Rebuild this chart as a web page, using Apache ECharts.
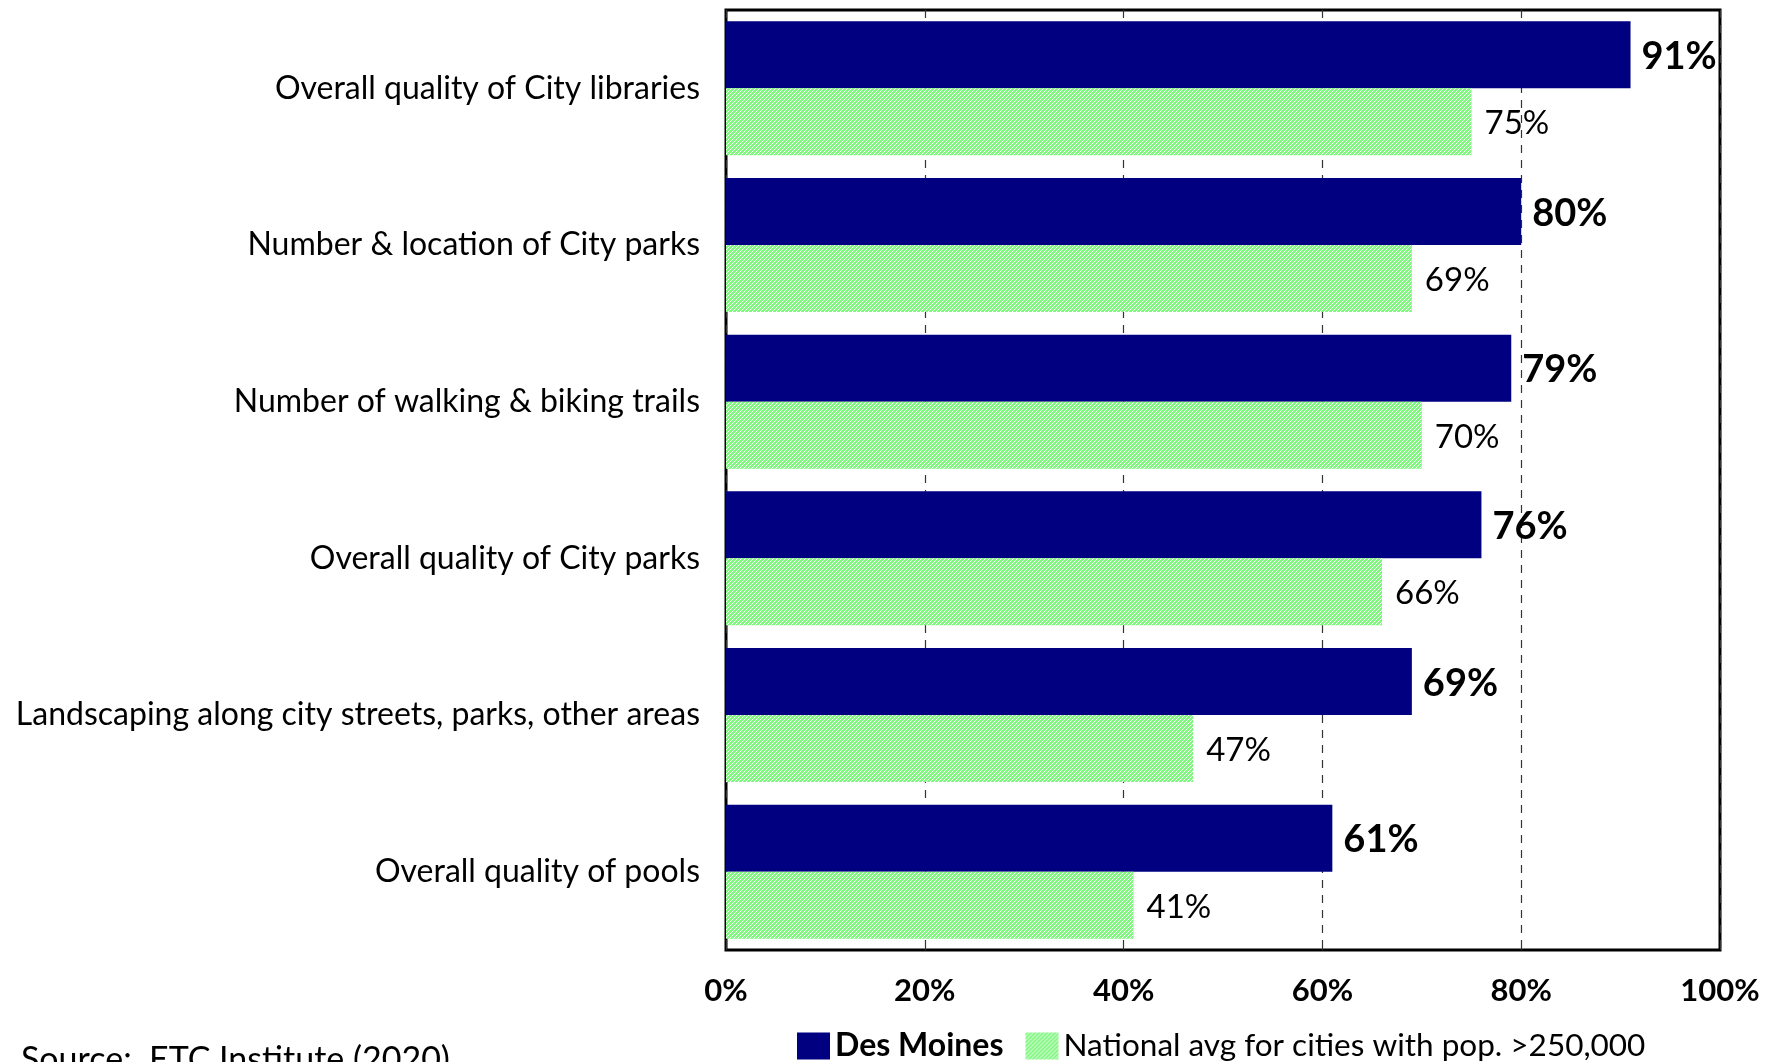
<!DOCTYPE html>
<html>
<head>
<meta charset="utf-8">
<script src="https://cdn.jsdelivr.net/npm/echarts@6/dist/echarts.min.js"></script>
<style>
html,body{margin:0;padding:0;background:#fff;}
#chart{width:1770px;height:1062px;}
</style>
</head>
<body>
<div id="chart"></div>
<script>
const categories = [
  "Overall quality of City libraries",
  "Number & location of City parks",
  "Number of walking & biking trails",
  "Overall quality of City parks",
  "Landscaping along city streets, parks, other areas",
  "Overall quality of pools"
];
const desMoines = [91, 80, 79, 76, 69, 61];
const national = [75, 69, 70, 66, 47, 41];
const seriesNames = ["Des Moines", "National avg for cities with pop. >250,000"];
const xTicks = { min: 0, max: 100, interval: 20 };
const sourceText = "Source:  ETC Institute (2020)";

// hatch pattern
const tile = document.createElement('canvas');
tile.width = 4; tile.height = 4;
const tc = tile.getContext('2d');
tc.fillStyle = '#80f880';
tc.fillRect(0, 0, 4, 4);
tc.fillStyle = '#ffffff';
for (let i = 0; i < 4; i++) tc.fillRect(i, 3 - i, 1, 1);
const hatch = { image: tile, repeat: 'repeat' };

const FONT = 'Lato';
const chart = echarts.init(document.getElementById('chart'));
chart.setOption({
  animation: false,
  backgroundColor: '#fff',
  textStyle: { fontFamily: FONT, color: '#000' },
  grid: {
    left: 726, right: 50, top: 10, bottom: 112,
    show: true, borderColor: '#000', borderWidth: 3, backgroundColor: 'transparent'
  },
  legend: {
    left: 797, top: 1030, padding: 0,
    icon: 'rect', itemWidth: 33, itemHeight: 27, itemGap: 22,
    data: seriesNames,
    formatter: function (n) { return n === seriesNames[0] ? '{b|' + n + '}' : '{n|' + n + '}'; },
    textStyle: {
      fontFamily: FONT, color: '#000', fontSize: 32,
      rich: {
        b: { fontFamily: FONT, fontWeight: 'bold', fontSize: 32, color: '#000' },
        n: { fontFamily: FONT, fontSize: 31.5, color: '#000' }
      }
    }
  },
  graphic: [{
    type: 'text', left: 21, top: 1043,
    style: { text: sourceText, font: '34px Lato', fill: '#000' }
  }],
  xAxis: {
    type: 'value', min: xTicks.min, max: xTicks.max, interval: xTicks.interval,
    axisLine: { show: false },
    axisTick: { show: true, inside: true, length: 9, lineStyle: { color: '#333', width: 1 } },
    axisLabel: { formatter: '{value}%', fontFamily: FONT, fontWeight: 'bold', fontSize: 31, color: '#000', margin: 25 },
    splitLine: { show: true, lineStyle: { color: '#333', width: 1.2, type: [8, 7] } }
  },
  yAxis: {
    type: 'category', data: categories, inverse: true,
    axisLine: { show: false }, axisTick: { show: false },
    axisLabel: { fontFamily: FONT, fontSize: 32, color: '#000', margin: 26, padding: [4, 0, 0, 0] }
  },
  series: [
    {
      name: seriesNames[0], type: 'bar', data: desMoines,
      barGap: '0%', barCategoryGap: '14.5%',
      itemStyle: { color: '#000080' },
      label: { show: true, position: 'right', distance: 11, offset: [0, 2], formatter: '{c}%',
        fontFamily: FONT, fontWeight: 'bold', fontSize: 38, color: '#000' },
      z: 3
    },
    {
      name: seriesNames[1], type: 'bar', data: national,
      barGap: '0%', barCategoryGap: '14.5%',
      itemStyle: { color: hatch },
      label: { show: true, position: 'right', distance: 13, offset: [0, 2], formatter: '{c}%',
        fontFamily: FONT, fontSize: 33, color: '#000' },
      z: 3
    }
  ]
});
</script>
</body>
</html>
